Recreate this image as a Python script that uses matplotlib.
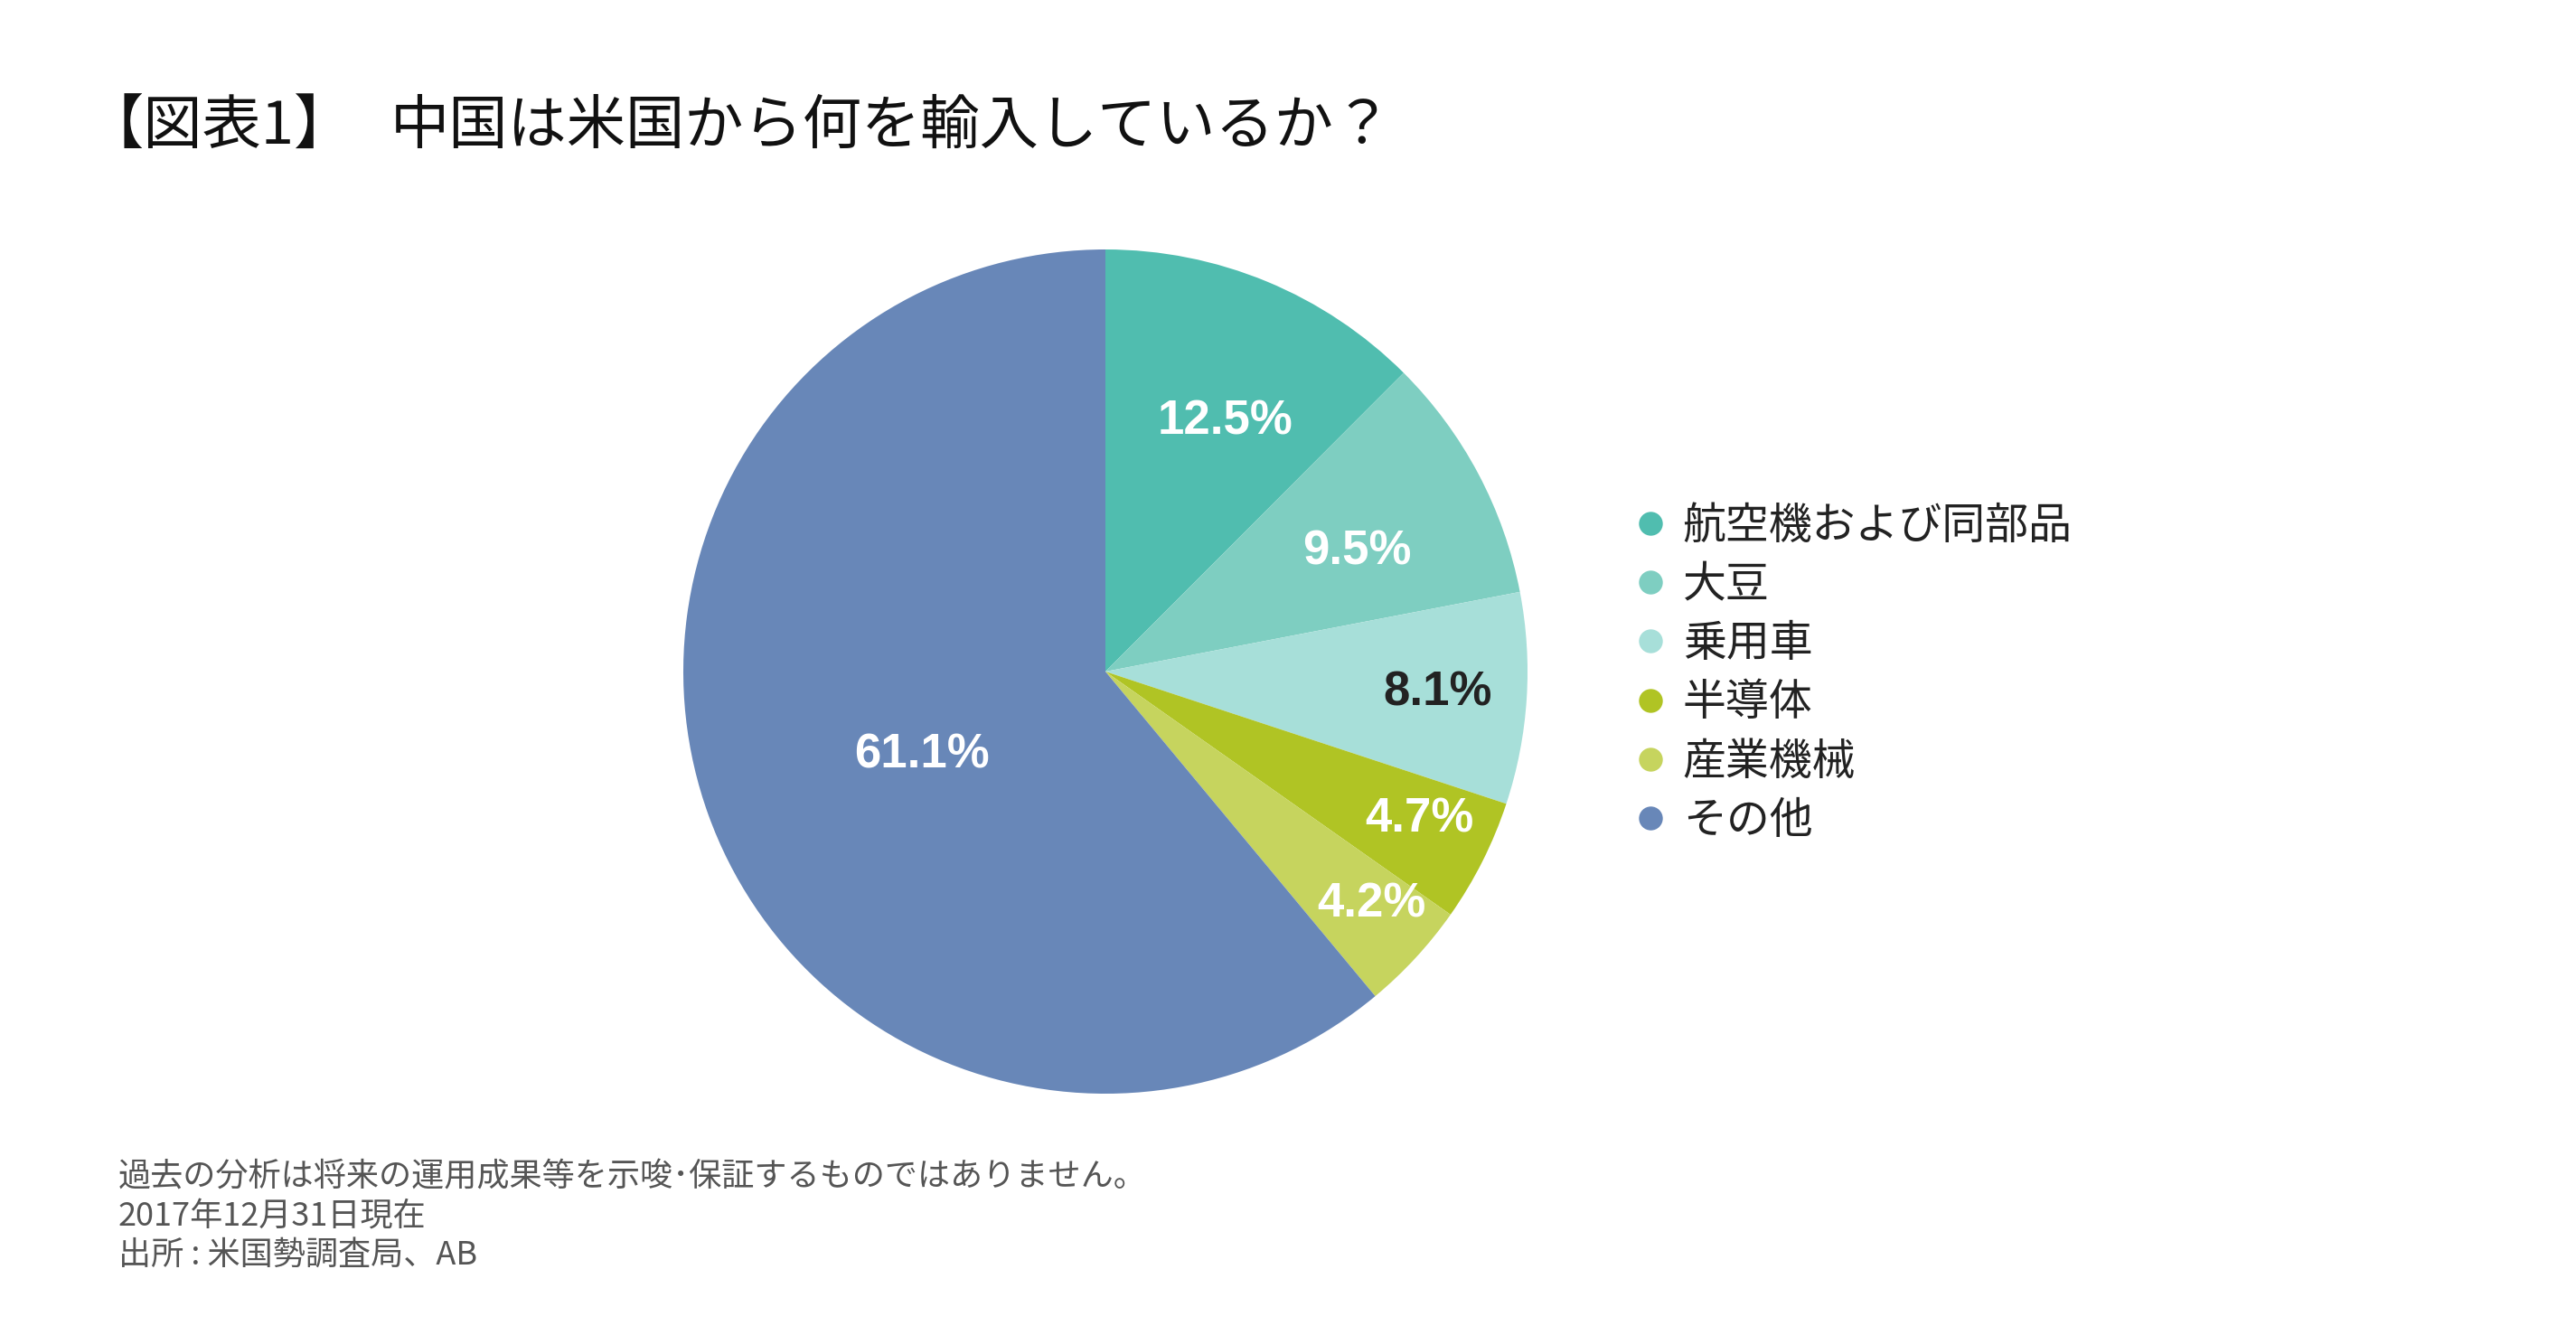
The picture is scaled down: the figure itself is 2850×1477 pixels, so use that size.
import matplotlib
matplotlib.use("Agg")
import matplotlib.pyplot as plt
import numpy as np
from matplotlib.lines import Line2D

plt.rcParams["font.family"] = ["Noto Sans CJK JP", "DejaVu Sans"]

categories = ["航空機および同部品", "大豆", "乗用車", "半導体", "産業機械", "その他"]
shares = [12.5, 9.5, 8.1, 4.7, 4.2, 61.1]
share_labels = ["12.5%", "9.5%", "8.1%", "4.7%", "4.2%", "61.1%"]

colors = ["#50BDAF", "#7ECEC1", "#A7DFD9", "#B0C424", "#C6D45E", "#6887B8"]
label_colors = ["white", "white", "#222222", "white", "white", "white"]
# label placement (polar, in pie radius units / degrees)
label_dist = [0.656, 0.660, 0.788, 0.822, 0.838, 0.479]
label_ang = [64.3, 25.5, -3.7, -25.2, -41.2, -155.5]

W, H = 2850, 1477
fig = plt.figure(figsize=(W / 100, H / 100), dpi=100, facecolor="white")

# pie axes: center (1223, 743) px, radius 467 px
cx, cy, r = 1223, 743, 467
ax = fig.add_axes([(cx - r) / W, (H - cy - r) / H, 2 * r / W, 2 * r / H])
wedges, _ = ax.pie(shares, colors=colors, startangle=90, counterclock=False,
                   radius=1, wedgeprops=dict(linewidth=0))
ax.set_xlim(-1, 1)
ax.set_ylim(-1, 1)
ax.set_aspect("equal")
ax.axis("off")

for lab, c, d, a in zip(share_labels, label_colors, label_dist, label_ang):
    ang = np.deg2rad(a)
    ax.text(d * np.cos(ang), d * np.sin(ang), lab, ha="center", va="center",
            color=c, fontsize=38, fontweight="bold", family="Liberation Sans")

handles = [Line2D([0], [0], marker="o", linestyle="none", markersize=19,
                  markerfacecolor=c, markeredgewidth=0) for c in colors]
leg = fig.legend(handles, categories, loc="center left",
                 bbox_to_anchor=(1778 / W, 1 - 745 / H), frameon=False,
                 fontsize=34.5, labelspacing=0.33, handletextpad=0.25,
                 handlelength=1.0, borderpad=0)
for t in leg.get_texts():
    t.set_color("#222222")

fig.text(94 / W, 1 - 141 / H, "【図表1】", fontsize=47, color="#111111",
         ha="left", va="center")
fig.text(432 / W, 1 - 141 / H, "中国は米国から何を輸入しているか？",
         fontsize=47, color="#111111", ha="left", va="center")

notes = ["過去の分析は将来の運用成果等を示唆･保証するものではありません。",
         "2017年12月31日現在",
         "出所 : 米国勢調査局、AB"]
for i, n in enumerate(notes):
    fig.text(131 / W, 1 - (1302 + 43.5 * i) / H, n, fontsize=26,
             color="#555555", ha="left", va="center")

fig.savefig("out.png", dpi=100, facecolor="white")
